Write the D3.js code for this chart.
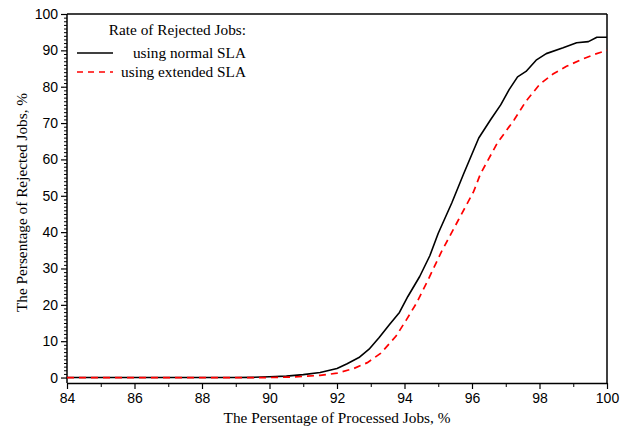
<!DOCTYPE html>
<html>
<head>
<meta charset="utf-8">
<script src="https://cdn.jsdelivr.net/npm/d3@7"></script>
<style>
  html, body { margin: 0; padding: 0; background: #fff; }
  svg { display: block; }
</style>
</head>
<body>
<svg id="chart" width="629" height="432"></svg>
<script>
// ---- Data ----
const normalX = [84, 85, 86, 87, 88, 89, 89.5, 90, 90.5, 91, 91.5, 92, 92.3, 92.65, 92.95, 93.25, 93.55, 93.85, 94.1, 94.45, 94.75, 95.0, 95.4, 95.75, 96.2, 96.55, 96.85, 97.1, 97.35, 97.6, 97.9, 98.2, 98.7, 99.1, 99.45, 99.7, 100];
const normalY = [0, 0, 0, 0, 0, 0, 0.05, 0.2, 0.4, 0.8, 1.4, 2.5, 3.8, 5.5, 7.8, 11, 14.5, 17.9, 22.3, 27.8, 33.5, 39.7, 48, 56, 65.9, 70.9, 75, 79.2, 82.7, 84.2, 87.3, 89.1, 90.7, 92.1, 92.4, 93.6, 93.6];
const extendedX = [84, 86, 88, 90, 90.5, 91, 91.5, 92, 92.5, 92.9, 93.3, 93.75, 94.05, 94.35, 94.7, 95.1, 95.6, 96.05, 96.25, 96.75, 97.25, 97.6, 98.0, 98.4, 98.8, 99.2, 99.6, 100];
const extendedY = [0, 0, 0, 0, 0.1, 0.3, 0.6, 1.2, 2.5, 4.1, 6.7, 11.4, 15.8, 20.4, 26.9, 34.7, 43.4, 51.2, 56, 64.5, 70.9, 76, 80.6, 83.5, 85.6, 87.3, 88.8, 90];
const xTicks = [84, 86, 88, 90, 92, 94, 96, 98, 100];
const yTicks = [0, 10, 20, 30, 40, 50, 60, 70, 80, 90, 100];
const seriesNames = ["using normal SLA", "using extended SLA"];
const legendTitle = "Rate of Rejected Jobs:";
const xTitle = "The Persentage of Processed Jobs, %";
const yTitle = "The Persentage of Rejected Jobs, %";

// ---- Layout ----
const svg = d3.select("#chart");
const L = 67, R = 607, T = 14, B = 383;
const x = d3.scaleLinear().domain([84, 100]).range([L, R]);
const y = d3.scaleLinear().domain([-1.5, 100]).range([B, T]);

const sansFont = "'Liberation Sans', Arial, sans-serif";
const serifFont = "'Liberation Serif', 'Times New Roman', serif";
const serifSize = 15.3;

// frame top/right
svg.append("line").attr("x1", L).attr("x2", R).attr("y1", T).attr("y2", T)
  .attr("stroke", "#000").attr("stroke-width", 1.5);
svg.append("line").attr("x1", R).attr("x2", R).attr("y1", T).attr("y2", B)
  .attr("stroke", "#000").attr("stroke-width", 1.5);

// x axis
const xAxis = d3.axisBottom(x).tickValues(xTicks).tickSize(6).tickSizeOuter(0).tickPadding(4);
const gx = svg.append("g").attr("transform", `translate(0,${B})`).call(xAxis);
gx.select(".domain").attr("stroke-width", 1.5);
gx.selectAll(".tick line").attr("stroke-width", 1.2);
gx.selectAll("text").attr("font-family", sansFont).attr("font-size", 14).attr("fill", "#000");
const xMinor = d3.axisBottom(x).tickValues(d3.range(85, 100, 2)).tickSize(4).tickSizeOuter(0).tickFormat("");
const gxm = svg.append("g").attr("transform", `translate(0,${B})`).call(xMinor);
gxm.select(".domain").remove();

// y axis
const yAxis = d3.axisLeft(y).tickValues(yTicks).tickSize(6).tickSizeOuter(0).tickPadding(3);
const gy = svg.append("g").attr("transform", `translate(${L},0)`).call(yAxis);
gy.select(".domain").attr("stroke-width", 1.5).attr("d", `M0,${B}V${T}`);
gy.selectAll(".tick line").attr("stroke-width", 1.2);
gy.selectAll("text").attr("font-family", sansFont).attr("font-size", 14).attr("fill", "#000");
const yMinor = d3.axisLeft(y).tickValues(d3.range(0, 101, 1).filter(v => v % 10 !== 0)).tickSize(3).tickSizeOuter(0).tickFormat("");
const gym = svg.append("g").attr("transform", `translate(${L},0)`).call(yMinor);
gym.select(".domain").remove();

// lines
const line = d3.line().x(d => x(d[0])).y(d => y(d[1]));
const normalData = normalX.map((v, i) => [v, normalY[i]]);
const extendedData = extendedX.map((v, i) => [v, extendedY[i]]);

svg.append("path").datum(normalData).attr("d", line)
  .attr("fill", "none").attr("stroke", "#000").attr("stroke-width", 1.6)
  .attr("stroke-linejoin", "round");
svg.append("path").datum(extendedData).attr("d", line)
  .attr("fill", "none").attr("stroke", "#ff0000").attr("stroke-width", 1.7)
  .attr("stroke-dasharray", "7,5");

// legend
const lg = svg.append("g");
lg.append("text").attr("x", 246).attr("y", 35).attr("text-anchor", "end")
  .attr("font-family", serifFont).attr("font-size", serifSize).text(legendTitle);
lg.append("line").attr("x1", 77).attr("x2", 113).attr("y1", 53).attr("y2", 53)
  .attr("stroke", "#000").attr("stroke-width", 1.6);
lg.append("text").attr("x", 246).attr("y", 58).attr("text-anchor", "end")
  .attr("font-family", serifFont).attr("font-size", serifSize).text(seriesNames[0]);
lg.append("line").attr("x1", 77).attr("x2", 113).attr("y1", 72).attr("y2", 72)
  .attr("stroke", "#ff0000").attr("stroke-width", 1.7).attr("stroke-dasharray", "6,5");
lg.append("text").attr("x", 246).attr("y", 77).attr("text-anchor", "end")
  .attr("font-family", serifFont).attr("font-size", serifSize).text(seriesNames[1]);

// axis titles
svg.append("text").attr("x", (L + R) / 2).attr("y", 423).attr("text-anchor", "middle")
  .attr("font-family", serifFont).attr("font-size", serifSize).text(xTitle);
svg.append("text").attr("transform", `translate(27,${(T + B) / 2 + 4}) rotate(-90)`)
  .attr("text-anchor", "middle")
  .attr("font-family", serifFont).attr("font-size", serifSize).text(yTitle);
</script>
</body>
</html>
